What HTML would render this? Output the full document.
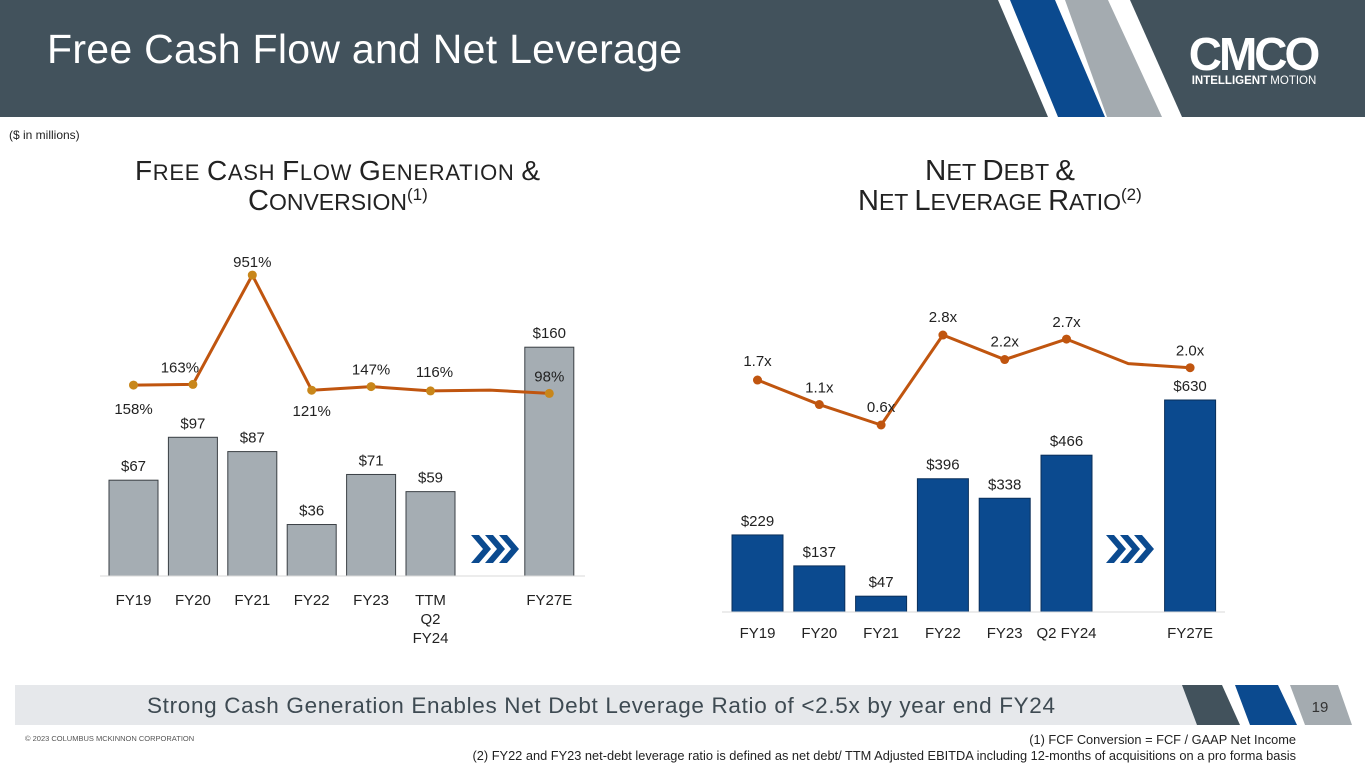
<!DOCTYPE html>
<html><head><meta charset="utf-8">
<style>
html,body{margin:0;padding:0;background:#fff;}
svg{display:block;font-family:"Liberation Sans",Arial,sans-serif;}
</style></head>
<body>
<svg id="s" width="1365" height="768" viewBox="0 0 1365 768" xmlns="http://www.w3.org/2000/svg">
  <rect x="0" y="0" width="1365" height="117" fill="#42525c"/>
  <polygon points="998,0 1130,0 1182,117 1048,117" fill="#fff"/>
  <polygon points="1010,0 1055,0 1105,117 1058,117" fill="#0b4a8f"/>
  <polygon points="1065,0 1108,0 1162,117 1107,117" fill="#a4abb0"/>
  <text x="47" y="63" font-size="41" fill="#fff" textLength="635" lengthAdjust="spacing">Free Cash Flow and Net Leverage</text>
  <g>
    <text x="1253" y="70" font-size="46" font-weight="bold" fill="#fff" text-anchor="middle" letter-spacing="-3">CMCO</text>
    <text x="1254" y="84" font-size="11.5" fill="#fff" text-anchor="middle"><tspan font-weight="bold">INTELLIGENT</tspan> MOTION</text>
  </g>
  <text x="9" y="139" font-size="12" fill="#222">($ in millions)</text>

  <text x="135" y="180" font-size="22" fill="#222" textLength="405" lengthAdjust="spacing"><tspan font-size="28">F</tspan>REE <tspan font-size="28">C</tspan>ASH <tspan font-size="28">F</tspan>LOW <tspan font-size="28">G</tspan>ENERATION <tspan font-size="28">&amp;</tspan></text>
  <text x="248" y="210" font-size="23" fill="#222"><tspan font-size="29">C</tspan>ONVERSION<tspan font-size="17" dy="-10">(1)</tspan></text>
  <text x="925" y="180" font-size="23" fill="#222" textLength="150" lengthAdjust="spacingAndGlyphs"><tspan font-size="29">N</tspan>ET <tspan font-size="29">D</tspan>EBT <tspan font-size="29">&amp;</tspan></text>
  <text x="858" y="210" font-size="23" fill="#222"><tspan font-size="29">N</tspan>ET <tspan font-size="29">L</tspan>EVERAGE <tspan font-size="29">R</tspan>ATIO<tspan font-size="17" dy="-10">(2)</tspan></text>

  <g id="left"></g>
  <g id="right"></g>

  <rect x="15" y="685" width="1185" height="40" fill="#e6e8eb"/>
  <text x="147" y="713" font-size="22.5" fill="#3e4a52" textLength="908" lengthAdjust="spacing">Strong Cash Generation Enables Net Debt Leverage Ratio of &lt;2.5x by year end FY24</text>
  <polygon points="1182,685 1222,685 1240,725 1197,725" fill="#42525c"/>
  <polygon points="1235,685 1278,685 1297,725 1250,725" fill="#0b4a8f"/>
  <polygon points="1290,685 1338,685 1352,725 1305,725" fill="#a4abb0"/>
  <text x="1320" y="712" font-size="15" fill="#333" text-anchor="middle">19</text>
  <text x="25" y="741" font-size="7.5" fill="#555">© 2023 COLUMBUS MCKINNON CORPORATION</text>
  <text x="1296" y="744" font-size="12.8" fill="#222" text-anchor="end">(1) FCF Conversion = FCF / GAAP Net Income</text>
  <text x="1296" y="760" font-size="12.8" fill="#222" text-anchor="end">(2) FY22 and FY23 net-debt leverage ratio is defined as net debt/ TTM Adjusted EBITDA including 12-months of acquisitions on a pro forma basis</text>
</svg>
<script>
// Left chart data
const fcfCategories = ["FY19","FY20","FY21","FY22","FY23","TTM|Q2|FY24","","FY27E"];
const fcfValues = [67,97,87,36,71,59,null,160];
const fcfConversion = [158,163,951,121,147,116,122,98];
const fcfConvLabels = ["158%","163%","951%","121%","147%","116%","","98%"];
// Right chart data
const debtCategories = ["FY19","FY20","FY21","FY22","FY23","Q2 FY24","","FY27E"];
const debtValues = [229,137,47,396,338,466,null,630];
const leverage = [1.7,1.1,0.6,2.8,2.2,2.7,2.1,2.0];
const leverageLabels = ["1.7x","1.1x","0.6x","2.8x","2.2x","2.7x","","2.0x"];

const NS="http://www.w3.org/2000/svg";
function mk(parent,tag,attrs,txt){const e=document.createElementNS(NS,tag);for(const k in attrs)e.setAttribute(k,attrs[k]);if(txt!==undefined)e.textContent=txt;parent.appendChild(e);return e;}
function chevrons(parent,x,y,name){
  const g=mk(parent,'g',{});
  
  
  for(let k=0;k<3;k++){
    const x0=x+k*14;
    mk(g,'polygon',{points:`${x0},${y} ${x0+8},${y} ${x0+20},${y+14} ${x0+8},${y+28} ${x0},${y+28} ${x0+12},${y+14}`,fill:'#0b4a8f'});
  }
}

// left scales
const L={x0:109,step:59.4,bw:49,base:576,k:1.43};
const lx=i=>L.x0+i*L.step, lcx=i=>lx(i)+L.bw/2, ly=v=>L.base-v*L.k;
const lpy=v=>407-v*0.1387;
const lg=document.getElementById('left');
fcfValues.forEach((v,i)=>{
  if(v===null)return;
  const r=mk(lg,'rect',{x:lx(i),y:ly(v),width:L.bw,height:L.base-ly(v),fill:'#a5adb3',stroke:'#3a3f44','stroke-width':1});
  
  
  const t=mk(lg,'text',{x:lcx(i),y:ly(v)-9,'font-size':15,fill:'#222','text-anchor':'middle'},'$'+v);
  
  
});
const lax=mk(lg,'line',{x1:100,x2:585,y1:L.base,y2:L.base,stroke:'#d9d9d9'});


fcfCategories.forEach((c,i)=>{
  c.split('|').forEach((p,j)=>{
    const t=mk(lg,'text',{x:lcx(i),y:605+j*19,'font-size':15,fill:'#222','text-anchor':'middle'},p);
    
    
  });
});
const lpl=mk(lg,'polyline',{points:fcfConversion.map((v,i)=>lcx(i)+','+lpy(v)).join(' '),fill:'none',stroke:'#c0550f','stroke-width':3,'stroke-linejoin':'round'});


const lOff=[[0,29],[-13,-12],[0,-8],[0,26],[0,-12],[4,-14],[0,0],[0,-12]];
fcfConversion.forEach((v,i)=>{
  if(!fcfConvLabels[i])return;
  const c=mk(lg,'circle',{cx:lcx(i),cy:lpy(v),r:4.5,fill:'#c8861a'});
  
  
  const t=mk(lg,'text',{x:lcx(i)+lOff[i][0],y:lpy(v)+lOff[i][1],'font-size':15,fill:'#222','text-anchor':'middle'},fcfConvLabels[i]);
  
  
});
chevrons(lg,471,535,'fcf-arrow-chevrons');

// right scales
const R={x0:732,step:61.8,bw:51,base:612,k:0.3365};
const rx=i=>R.x0+i*R.step, rcx=i=>rx(i)+R.bw/2, ry=v=>R.base-v*R.k;
const rpy=v=>425+(0.6-v)*40.9;
const rg=document.getElementById('right');
debtValues.forEach((v,i)=>{
  if(v===null)return;
  const r=mk(rg,'rect',{x:rx(i),y:ry(v),width:R.bw,height:R.base-ry(v),fill:'#0b4a8f',stroke:'#0a2f5a','stroke-width':1});
  
  
  const t=mk(rg,'text',{x:rcx(i),y:ry(v)-9,'font-size':15,fill:'#222','text-anchor':'middle'},'$'+v);
  
  
});
const rax=mk(rg,'line',{x1:722,x2:1225,y1:R.base,y2:R.base,stroke:'#d9d9d9'});


debtCategories.forEach((c,i)=>{
  const t=mk(rg,'text',{x:rcx(i),y:638,'font-size':15,fill:'#222','text-anchor':'middle'},c);
  
  
});
const rpl=mk(rg,'polyline',{points:leverage.map((v,i)=>rcx(i)+','+rpy(v)).join(' '),fill:'none',stroke:'#c0550f','stroke-width':3,'stroke-linejoin':'round'});


const rOff=[[0,-14],[0,-12],[0,-13],[0,-13],[0,-13],[0,-12],[0,0],[0,-12]];
leverage.forEach((v,i)=>{
  if(!leverageLabels[i])return;
  const c=mk(rg,'circle',{cx:rcx(i),cy:rpy(v),r:4.5,fill:'#c0550f'});
  
  
  const t=mk(rg,'text',{x:rcx(i)+rOff[i][0],y:rpy(v)+rOff[i][1],'font-size':15,fill:'#222','text-anchor':'middle'},leverageLabels[i]);
  
  
});
chevrons(rg,1106,535,'net-debt-arrow-chevrons');
</script>
</body></html>
